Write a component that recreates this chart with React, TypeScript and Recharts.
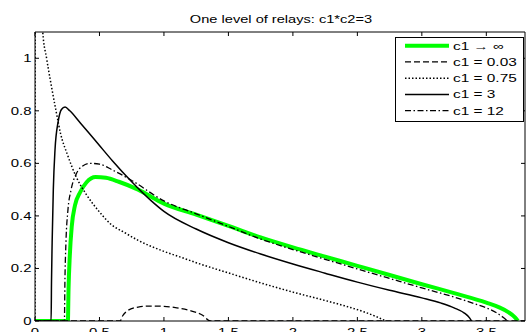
import React from 'react';
import { LineChart, Line, XAxis, YAxis, Legend } from 'recharts';

const W = 527;
const H = 332;
const PLOT_LEFT = 35;
const PLOT_RIGHT = W - 2;
const PLOT_TOP = 32;
const PLOT_BOTTOM = H - 11;
const FONT = '"Liberation Sans", Arial, Helvetica, sans-serif';

const title = 'One level of relays: c1*c2=3';
const seriesNames = ['c1 \u2192 \u221e', 'c1 = 0.03', 'c1 = 0.75', 'c1 = 3', 'c1 = 12'];
const xTicks = [0, 0.5, 1, 1.5, 2, 2.5, 3, 3.5];
const yTicks = [0, 0.2, 0.4, 0.6, 0.8, 1];

// c1 -> infinity (green)
const infX = [0, 0.255, 0.26, 0.27, 0.285, 0.31, 0.35, 0.4, 0.47, 0.55, 0.65, 0.8, 1.0, 1.25, 1.5, 1.75, 2.0, 2.25, 2.5, 2.75, 3.0, 3.25, 3.5, 3.6, 3.67, 3.72, 3.745];
const infY = [0, 0, 0.12, 0.25, 0.36, 0.44, 0.49, 0.528, 0.548, 0.545, 0.53, 0.5, 0.447, 0.405, 0.362, 0.318, 0.28, 0.245, 0.21, 0.175, 0.14, 0.106, 0.07, 0.052, 0.034, 0.015, 0];

// c1 = 0.03 (dashed)
const c003X = [0, 0.66, 0.68, 0.72, 0.8, 0.9, 1.0, 1.1, 1.2, 1.3, 1.36, 3.8];
const c003Y = [0, 0, 0.02, 0.04, 0.053, 0.057, 0.056, 0.05, 0.04, 0.022, 0, 0];

// c1 = 0.75 (dotted)
const c075X = [0, 0.005, 0.04, 0.06, 0.09, 0.125, 0.163, 0.2, 0.25, 0.32, 0.4, 0.5, 0.58, 0.7, 0.8, 1.0, 1.13, 1.25, 1.5, 1.75, 2.0, 2.25, 2.4, 2.55, 2.65, 2.72];
const c075Y = [0, 3, 1.3, 1.1, 1.0, 0.9, 0.8, 0.71, 0.635, 0.548, 0.48, 0.415, 0.372, 0.335, 0.307, 0.265, 0.243, 0.222, 0.183, 0.145, 0.11, 0.078, 0.058, 0.035, 0.016, 0];

// c1 = 3 (solid black)
const c3X = [0, 0.125, 0.128, 0.133, 0.142, 0.155, 0.18, 0.205, 0.233, 0.27, 0.35, 0.42, 0.5, 0.6, 0.75, 0.9, 1.0, 1.25, 1.5, 1.75, 2.0, 2.25, 2.5, 2.75, 3.0, 3.15, 3.25, 3.33, 3.37, 3.385];
const c3Y = [0, 0, 0.15, 0.3, 0.5, 0.65, 0.76, 0.805, 0.815, 0.8, 0.755, 0.715, 0.668, 0.61, 0.53, 0.458, 0.417, 0.35, 0.298, 0.255, 0.217, 0.182, 0.148, 0.117, 0.088, 0.068, 0.05, 0.03, 0.012, 0];

// c1 = 12 (dash-dot)
const c12X = [0, 0.228, 0.232, 0.24, 0.255, 0.28, 0.32, 0.37, 0.43, 0.5, 0.6, 0.75, 1.0, 1.25, 1.5, 1.75, 2.0, 2.25, 2.5, 2.75, 3.0, 3.25, 3.4, 3.5, 3.58, 3.63, 3.665];
const c12Y = [0, 0, 0.15, 0.3, 0.42, 0.5, 0.56, 0.59, 0.6, 0.597, 0.575, 0.535, 0.457, 0.408, 0.36, 0.312, 0.272, 0.235, 0.198, 0.162, 0.126, 0.091, 0.067, 0.05, 0.031, 0.014, 0];

const toPoints = (xs: number[], ys: number[]) => xs.map((x, i) => ({ x, y: ys[i] }));

const STYLES = [
  { stroke: '#00ff00', width: 4, dash: undefined as string | undefined },
  { stroke: '#000', width: 1.3, dash: '6 3' },
  { stroke: '#000', width: 1.5, dash: '1.5 2' },
  { stroke: '#000', width: 1.5, dash: undefined },
  { stroke: '#000', width: 1.3, dash: '6 2.5 1.5 2.5' },
];

const SERIES = [
  toPoints(infX, infY),
  toPoints(c003X, c003Y),
  toPoints(c075X, c075Y),
  toPoints(c3X, c3Y),
  toPoints(c12X, c12Y),
];

function BottomTick({ x, payload }: any) {
  return (
    <g>
      <line x1={x} x2={x} y1={PLOT_BOTTOM} y2={PLOT_BOTTOM - 4} stroke="#000" />
      <text
        transform={`translate(${x},${PLOT_BOTTOM + 15}) scale(1.3,1)`}
        textAnchor="middle"
        fontSize={11.5}
        fontFamily={FONT}
        fill="#000"
      >
        {String(payload.value)}
      </text>
    </g>
  );
}

function LeftTick({ y, payload }: any) {
  return (
    <g>
      <line x1={PLOT_LEFT} x2={PLOT_LEFT + 4} y1={y} y2={y} stroke="#000" />
      <text
        transform={`translate(31.5,${y + 4}) scale(1.3,1)`}
        textAnchor="end"
        fontSize={11.5}
        fontFamily={FONT}
        fill="#000"
      >
        {String(payload.value)}
      </text>
    </g>
  );
}

function TopTick({ x }: any) {
  return <line x1={x} x2={x} y1={PLOT_TOP} y2={PLOT_TOP + 4} stroke="#000" />;
}

function RightTick({ y }: any) {
  return <line x1={PLOT_RIGHT} x2={PLOT_RIGHT - 4} y1={y} y2={y} stroke="#000" />;
}

function LegendBox() {
  return (
    <svg width={129} height={85} style={{ display: 'block' }}>
      <rect x={0.5} y={0.5} width={128} height={84} fill="#fff" stroke="#000" />
      {seriesNames.map((name, i) => {
        const cy = 8.7 + i * 16.25;
        const s = STYLES[i];
        return (
          <g key={name}>
            <line x1={10} x2={54} y1={cy} y2={cy} stroke={s.stroke} strokeWidth={s.width} strokeDasharray={s.dash} />
            <text
              transform={`translate(58,${cy + 4}) scale(1.4,1)`}
              fontSize={11}
              fontFamily={FONT}
              fill="#000"
            >
              {name}
            </text>
          </g>
        );
      })}
    </svg>
  );
}

export default function App() {
  return (
    <div style={{ position: 'absolute', left: 0, top: 0, width: W, height: H, background: '#fff' }}>
      <div
        style={{
          position: 'absolute',
          left: 281,
          top: 13,
          transform: 'translateX(-50%) scaleX(1.27)',
          fontFamily: FONT,
          fontSize: 11.5,
          lineHeight: '12px',
          whiteSpace: 'nowrap',
          color: '#000',
        }}
      >
        {title}
      </div>
      <LineChart
        width={W}
        height={H}
        margin={{ top: PLOT_TOP - 1, right: W - PLOT_RIGHT - 1, bottom: H - PLOT_BOTTOM - 1, left: PLOT_LEFT - 1 }}
        style={{ position: 'absolute', left: 0, top: 0 }}
      >
        <XAxis
          dataKey="x"
          type="number"
          domain={[0, 3.8]}
          ticks={xTicks}
          allowDataOverflow
          height={1}
          tickLine={false}
          axisLine={{ stroke: '#000' }}
          tick={<BottomTick />}
          interval={0}
        />
        <XAxis
          xAxisId="top"
          orientation="top"
          dataKey="x"
          type="number"
          domain={[0, 3.8]}
          ticks={xTicks}
          allowDataOverflow
          height={1}
          tickLine={false}
          axisLine={{ stroke: '#000' }}
          tick={<TopTick />}
          interval={0}
        />
        <YAxis
          type="number"
          domain={[0, 1.1]}
          ticks={yTicks}
          allowDataOverflow
          width={1}
          tickLine={false}
          axisLine={{ stroke: '#000' }}
          tick={<LeftTick />}
          interval={0}
        />
        <YAxis
          yAxisId="right"
          orientation="right"
          type="number"
          domain={[0, 1.1]}
          ticks={yTicks}
          allowDataOverflow
          width={1}
          tickLine={false}
          axisLine={{ stroke: '#000' }}
          tick={<RightTick />}
          interval={0}
        />
        {SERIES.map((data, i) => (
          <Line
            key={seriesNames[i]}
            name={seriesNames[i]}
            data={data}
            dataKey="y"
            type="monotone"
            stroke={STYLES[i].stroke}
            strokeWidth={STYLES[i].width}
            strokeDasharray={STYLES[i].dash}
            dot={false}
            activeDot={false}
            isAnimationActive={false}
          />
        ))}
        <Legend
          layout="vertical"
          align="center"
          verticalAlign="middle"
          content={() => <LegendBox />}
          wrapperStyle={{ left: 395, top: 37, width: 129, height: 85 }}
        />
      </LineChart>
    </div>
  );
}
